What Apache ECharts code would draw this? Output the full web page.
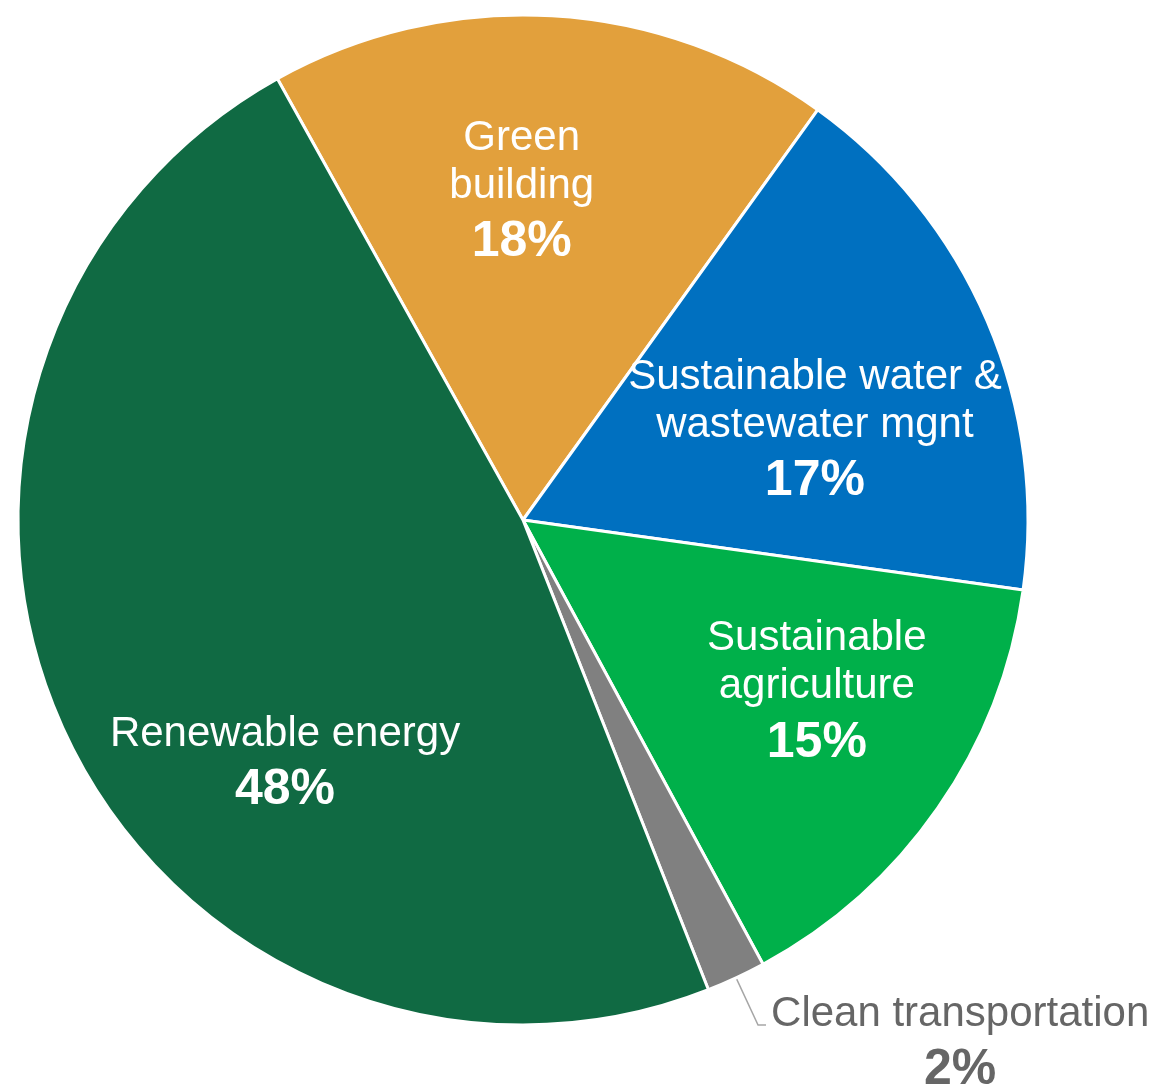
<!DOCTYPE html>
<html>
<head>
<meta charset="utf-8">
<script src="https://cdn.jsdelivr.net/npm/echarts@6/dist/echarts.min.js"></script>
<style>html,body{margin:0;padding:0;background:#fff;}#c{width:1160px;height:1088px;}</style>
</head>
<body>
<div id="c"></div>
<script>
var categories = ['Green building', 'Sustainable water & wastewater mgnt', 'Sustainable agriculture', 'Clean transportation', 'Renewable energy'];
var labelLines = [['Green', 'building'], ['Sustainable water &', 'wastewater mgnt'], ['Sustainable', 'agriculture'], ['Clean transportation'], ['Renewable energy']];
var values = [18, 17.3, 14.9, 1.9, 47.9];
var colors = ['#E2A03C', '#0070C0', '#00B04A', '#808080', '#106A43'];

// label offsets from the default inside position (style only)
var labelShift = [[-16, -71], [57, 14], [84, 29], [0, 0], [-7, 137]];

var chart = echarts.init(document.getElementById('c'));
var FONT = '"Liberation Sans", Arial, sans-serif';
var data = categories.map(function (c, i) {
  var item = { name: c, value: values[i], itemStyle: { color: colors[i] } };
  if (i === 3) {
    item.label = {
      position: 'outside',
      color: '#666666',
      padding: [42, 0, 0, 0],
      rich: {
        n: { fontFamily: FONT, fontSize: 42, color: '#666666', lineHeight: 48, align: 'center' },
        p: { fontFamily: FONT, fontSize: 50, fontWeight: 'bold', color: '#666666', lineHeight: 64, align: 'center' }
      }
    };
    item.labelLine = { show: true, length: 52, length2: 8, smooth: false, lineStyle: { color: '#A6A6A6', width: 1.5 } };
  }
  return item;
});

chart.setOption({
  animation: false,
  backgroundColor: '#ffffff',
  series: [{
    type: 'pie',
    center: [523, 520],
    radius: [0, 505],
    startAngle: 119.1,
    clockwise: true,
    avoidLabelOverlap: false,
    itemStyle: { borderColor: '#ffffff', borderWidth: 3 },
    label: {
      show: true,
      position: 'inside',
      formatter: function (p) {
        var lines = labelLines[p.dataIndex].map(function (l) { return '{n|' + l + '}'; });
        lines.push('{p|' + Math.round(p.value) + '%}');
        return lines.join('\n');
      },
      rich: {
        n: { fontFamily: FONT, fontSize: 42, color: '#ffffff', lineHeight: 48, align: 'center' },
        p: { fontFamily: FONT, fontSize: 50, fontWeight: 'bold', color: '#ffffff', lineHeight: 64, align: 'center' }
      }
    },
    labelLine: { show: false },
    labelLayout: function (params) {
      var s = labelShift[params.dataIndex];
      if (params.dataIndex === 3) return {};
      return { dx: s[0], dy: s[1] };
    },
    data: data
  }]
});
</script>
</body>
</html>
